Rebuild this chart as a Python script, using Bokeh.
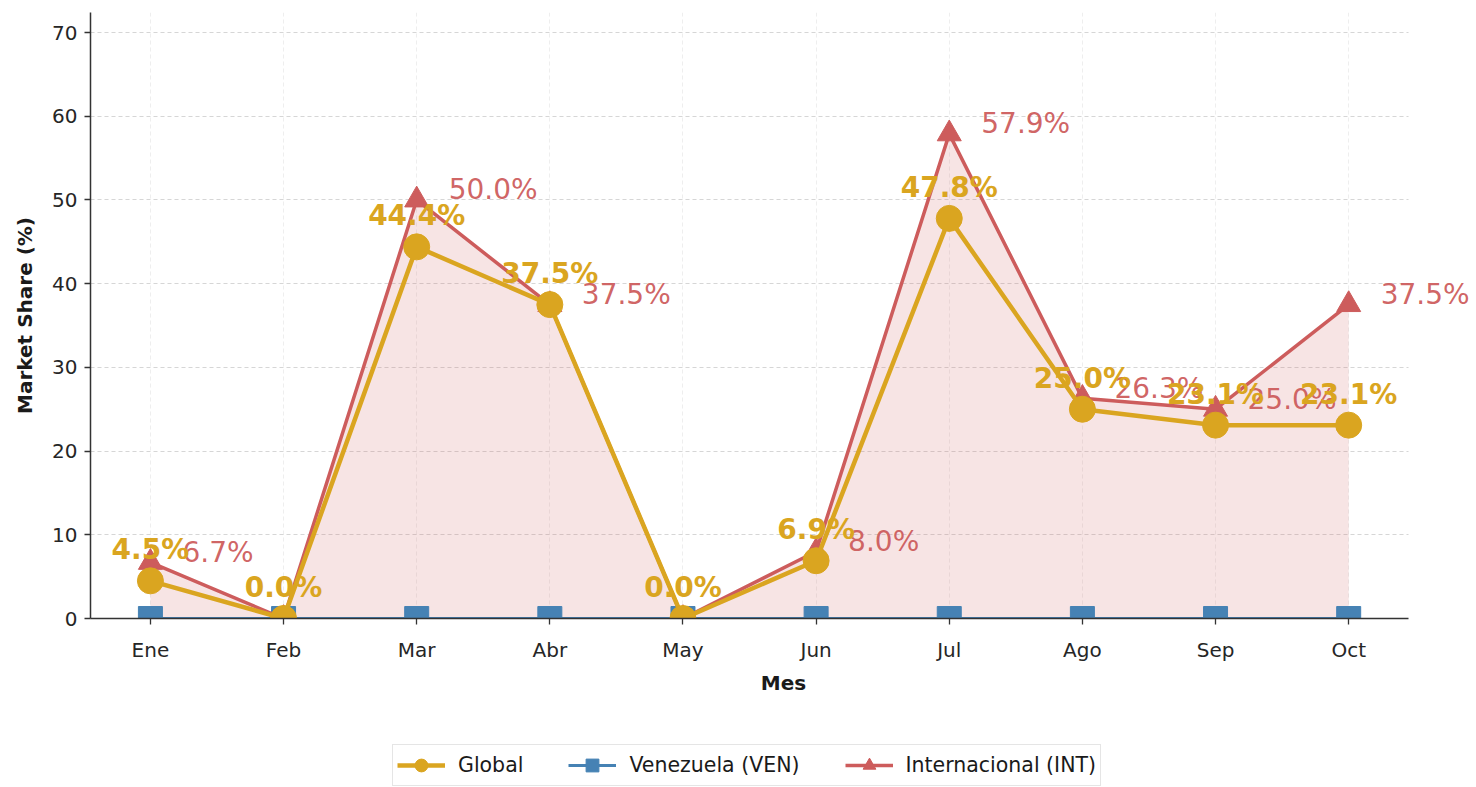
from bokeh.plotting import figure
from bokeh.layouts import column
from bokeh.models import (Range1d, FixedTicker, Legend, LegendItem, ColumnDataSource)
from bokeh.core.properties import value
from bokeh.embed import file_html
from bokeh.resources import INLINE

months = ["Ene", "Feb", "Mar", "Abr", "May", "Jun", "Jul", "Ago", "Sep", "Oct"]
global_share = [4.5, 0.0, 44.4, 37.5, 0.0, 6.9, 47.8, 25.0, 23.1, 23.1]
ven_share = [0.0, 0.0, 0.0, 0.0, 0.0, 0.0, 0.0, 0.0, 0.0, 0.0]
int_share = [6.7, 0.0, 50.0, 37.5, 0.0, 8.0, 57.9, 26.3, 25.0, 37.5]
y_ticks = [0, 10, 20, 30, 40, 50, 60, 70]
series_names = ["Global", "Venezuela (VEN)", "Internacional (INT)"]

FONT = "DejaVu Sans"
GOLD = "#DAA520"
BLUE = "#4682B4"
RED = "#CD5C5C"

xs = list(range(len(months)))
src = ColumnDataSource(dict(
    x=xs, g=global_share, v=ven_share, i=int_share,
    zero=[0] * len(xs),
    gl=[f"{v:.1f}%" for v in global_share],
))
int_lab = ColumnDataSource(dict(
    x=[x for x, v in zip(xs, int_share) if v > 0],
    y=[v for v in int_share if v > 0],
    t=[f"{v:.1f}%" for v in int_share if v > 0],
))

X_START, X_END = -0.45, 9.45
p = figure(width=1476, height=740, output_backend="svg", toolbar_location=None,
           x_range=Range1d(X_START, 9.96), y_range=Range1d(0, 72.4))
p.min_border_left = 90
p.min_border_right = 0
p.min_border_top = 12
p.min_border_bottom = 122
p.outline_line_color = None
p.background_fill_color = "white"

# fill under Internacional
p.varea(x="x", y1="zero", y2="i", source=src, fill_color=RED, fill_alpha=0.17)

p.line("x", "v", source=src, line_color=BLUE, line_width=3)
p.scatter("x", "v", source=src, marker="square", size=24, fill_color=BLUE, line_color=BLUE)
p.line("x", "i", source=src, line_color=RED, line_width=3.5)
p.scatter("x", "i", source=src, marker="triangle", size=24, fill_color=RED, line_color=RED)
p.line("x", "g", source=src, line_color=GOLD, line_width=4.5)
p.scatter("x", "g", source=src, marker="circle", size=26, fill_color=GOLD, line_color=GOLD)

p.text("x", "y", text="t", source=int_lab, text_font=value(FONT), text_font_size="28px",
       text_color=RED, text_alpha=0.95, text_align="left",
       text_baseline="middle", x_offset=32, y_offset=-10)
p.text("x", "g", text="gl", source=src, text_font=value(FONT), text_font_size="28px",
       text_font_style="bold", text_color=GOLD, text_align="center",
       text_baseline="middle", y_offset=-31)

# axes
p.xaxis.ticker = FixedTicker(ticks=xs)
p.xaxis.major_label_overrides = {i: m for i, m in enumerate(months)}
p.xaxis.bounds = (X_START, X_END)
p.yaxis.ticker = FixedTicker(ticks=y_ticks)
p.xaxis.axis_label = "Mes"
p.yaxis.axis_label = "Market Share (%)"
for ax in (p.xaxis, p.yaxis):
    ax.axis_label_text_font = FONT
    ax.axis_label_text_font_size = "20px"
    ax.axis_label_text_font_style = "bold"
    ax.axis_label_text_color = "#1a1a1a"
    ax.major_label_text_font = FONT
    ax.major_label_text_font_size = "20px"
    ax.major_label_text_color = "#262626"
    ax.axis_line_color = "#333333"
    ax.axis_line_width = 1.5
    ax.major_tick_line_color = "#333333"
    ax.major_tick_line_width = 1.3
    ax.major_tick_in = 0
    ax.major_tick_out = 6
    ax.minor_tick_line_color = None
p.xaxis.axis_label_standoff = 6
p.yaxis.axis_label_standoff = 12
p.xaxis.major_label_standoff = 13
p.yaxis.major_label_standoff = 7

p.ygrid.grid_line_color = "#cccccc"
p.ygrid.grid_line_dash = "4 3"
p.ygrid.grid_line_alpha = 0.8
p.ygrid.cross_bounds = (X_START, X_END)
p.xgrid.grid_line_color = "#dddddd"
p.xgrid.grid_line_dash = "4 3"
p.xgrid.grid_line_alpha = 0.5

# legend strip below the chart (series drawn off-range, only their legend shows)
lg = figure(width=1476, height=47, output_backend="svg", toolbar_location=None,
            x_axis_type=None, y_axis_type=None,
            x_range=Range1d(1000, 1001), y_range=Range1d(1000, 1001))
lg.min_border = 0
lg.min_border_left = 90
lg.min_border_right = 0
lg.min_border_top = 0
lg.min_border_bottom = 0
lg.outline_line_color = None
lg.grid.visible = False
items = []
for name, col, mk, lw, ms, ycol in zip(series_names, [GOLD, BLUE, RED],
                                       ["circle", "square", "triangle"],
                                       [4.5, 3, 3.5], [24, 22, 22], ["g", "v", "i"]):
    l = lg.line("x", ycol, source=src, line_color=col, line_width=lw)
    s = lg.scatter("x", ycol, source=src, marker=mk, size=ms, fill_color=col, line_color=col)
    items.append(LegendItem(label=name, renderers=[l, s]))
legend = Legend(items=items, orientation="horizontal", location=(302, 1))
legend.label_text_font = FONT
legend.label_text_font_size = "20.5px"
legend.label_text_color = "#1a1a1a"
legend.glyph_width = 48
legend.glyph_height = 32
legend.label_standoff = 13
legend.spacing = 45
legend.padding = 4
legend.margin = 0
legend.border_line_color = "#cccccc"
legend.border_line_width = 1.2
legend.background_fill_alpha = 1
lg.add_layout(legend, "center")

open("out.html", "w").write(file_html(column(p, lg), INLINE))
